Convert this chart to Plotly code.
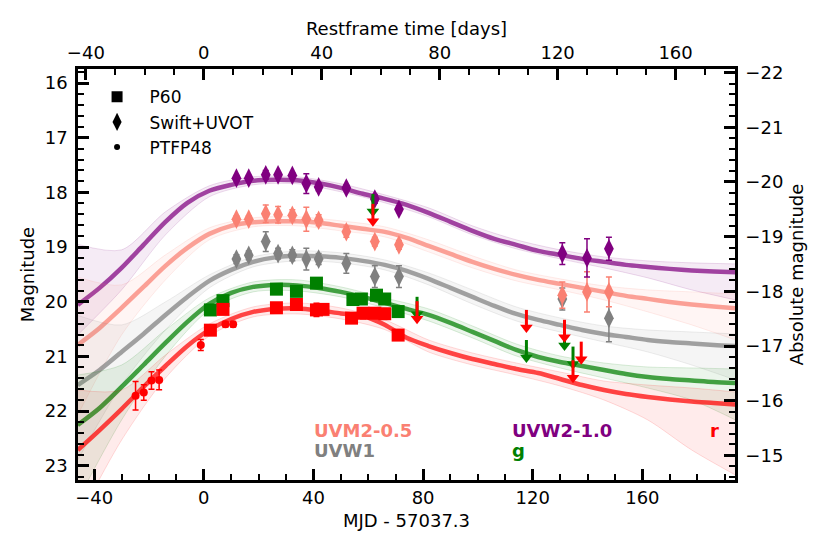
import plotly.graph_objects as go

# ---------------- data ----------------
REDSHIFT = 0.0757          # restframe = observed / (1 + z)
DIST_MOD = 37.81           # absolute = apparent - DIST_MOD

# model light curves (MJD - 57037.3 grid), central track
MODEL_T = [-46, -38, -30, -22, -14, -6, 2, 10, 18, 26, 34, 42, 50, 58, 66, 74,
           82, 90, 98, 106, 114, 122, 130, 138, 146, 154, 162, 170, 178, 186, 194]
UVW2_MODEL = [20.058, 19.747, 19.381, 18.960, 18.539, 18.191, 17.971, 17.862, 17.788, 17.770,
              17.779, 17.834, 17.917, 18.026, 18.118, 18.228, 18.374, 18.539, 18.704, 18.850,
              18.960, 19.070, 19.143, 19.216, 19.271, 19.326, 19.363, 19.399, 19.427, 19.445, 19.463]
UVM2_MODEL = [20.790, 20.479, 20.113, 19.729, 19.344, 19.015, 18.759, 18.612, 18.548, 18.530,
              18.530, 18.557, 18.612, 18.667, 18.722, 18.832, 18.978, 19.125, 19.271, 19.399,
              19.509, 19.601, 19.674, 19.747, 19.820, 19.893, 19.948, 20.003, 20.049, 20.086, 20.122]
UVW1_MODEL = [21.523, 21.248, 20.919, 20.589, 20.241, 19.912, 19.619, 19.418, 19.271, 19.189,
              19.161, 19.170, 19.198, 19.253, 19.326, 19.436, 19.582, 19.747, 19.912, 20.077,
              20.223, 20.333, 20.424, 20.516, 20.589, 20.644, 20.699, 20.736, 20.763, 20.790, 20.809]
G_MODEL = [22.255, 21.944, 21.559, 21.157, 20.754, 20.369, 20.040, 19.839, 19.729, 19.692,
           19.701, 19.747, 19.820, 19.912, 20.022, 20.131, 20.241, 20.388, 20.552, 20.717,
           20.882, 21.010, 21.102, 21.175, 21.248, 21.321, 21.376, 21.413, 21.440, 21.468, 21.486]
R_MODEL = [22.712, 22.346, 21.962, 21.559, 21.175, 20.809, 20.516, 20.315, 20.186, 20.131,
           20.122, 20.159, 20.214, 20.260, 20.420, 20.660, 20.810, 20.937, 21.047, 21.138,
           21.230, 21.303, 21.413, 21.523, 21.614, 21.687, 21.742, 21.788, 21.825, 21.852, 21.880]

# spread of the model samples (bright edge / faint edge)
ENV_T = [-46, -30, -14, 2, 18, 34, 50, 66, 82, 98, 114, 130, 146, 162, 178, 194]
UVW2_BRIGHT = [18.950, 19.051, 18.356, 17.880, 17.715, 17.715, 17.843, 18.045, 18.283, 18.612,
               18.868, 19.051, 19.180, 19.253, 19.289, 19.308]
UVW2_FAINT = [20.607, 19.784, 18.777, 18.081, 17.862, 17.843, 17.990, 18.191, 18.447, 18.777,
              19.033, 19.216, 19.381, 19.564, 19.784, 19.967]
UVM2_BRIGHT = [19.550, 19.692, 19.143, 18.649, 18.466, 18.447, 18.521, 18.630, 18.868, 19.161,
               19.418, 19.582, 19.710, 19.784, 19.820, 19.857]
UVM2_FAINT = [22.072, 20.607, 19.601, 18.868, 18.630, 18.612, 18.704, 18.814, 19.088, 19.381,
              19.619, 19.784, 19.967, 20.186, 20.424, 20.699]
UVW1_BRIGHT = [20.250, 20.424, 20.003, 19.509, 19.180, 19.070, 19.106, 19.235, 19.473, 19.784,
               20.095, 20.296, 20.443, 20.516, 20.553, 20.589]
UVW1_FAINT = [22.896, 21.523, 20.516, 19.747, 19.363, 19.253, 19.289, 19.418, 19.692, 20.040,
              20.351, 20.553, 20.736, 20.919, 21.157, 21.431]
G_BRIGHT = [21.340, 21.157, 20.516, 19.930, 19.638, 19.601, 19.729, 19.930, 20.131, 20.443,
            20.772, 20.992, 21.120, 21.193, 21.211, 21.230]
G_FAINT = [23.628, 22.163, 20.992, 20.150, 19.820, 19.802, 19.912, 20.113, 20.351, 20.662,
           20.992, 21.211, 21.395, 21.578, 21.797, 22.163]
R_BRIGHT = [21.614, 21.614, 20.974, 20.406, 20.095, 20.022, 20.113, 20.330, 20.699, 20.937,
            21.120, 21.285, 21.450, 21.523, 21.578, 21.651]
R_FAINT = [23.994, 22.530, 21.395, 20.626, 20.278, 20.223, 20.315, 20.510, 20.919, 21.157,
           21.340, 21.541, 21.797, 22.163, 22.712, 23.170]

# Swift+UVOT photometry (already offset)
UVW2_T = [11.9, 16.4, 22.6, 27.1, 32.3, 37.4, 41.9, 52.0, 62.4, 71.2, 130.8, 139.8, 147.8]
UVW2_M = [17.74, 17.74, 17.68, 17.68, 17.69, 17.84, 17.90, 17.92, 18.12, 18.31, 19.12, 19.20, 19.03]
UVW2_E = [0.05, 0.05, 0.08, 0.05, 0.05, 0.18, 0.07, 0.05, 0.08, 0.06, 0.20, 0.35, 0.21]
UVM2_T = [11.9, 16.4, 22.6, 27.1, 32.3, 37.4, 41.9, 52.0, 62.4, 71.2, 130.8, 139.8, 147.8]
UVM2_M = [18.49, 18.49, 18.39, 18.41, 18.42, 18.49, 18.51, 18.72, 18.90, 18.96, 19.88, 19.82, 19.82]
UVM2_E = [0.06, 0.06, 0.16, 0.15, 0.10, 0.22, 0.10, 0.10, 0.08, 0.08, 0.24, 0.37, 0.27]
UVW1_T = [11.9, 16.4, 22.6, 27.1, 32.3, 37.4, 41.9, 52.0, 62.4, 71.2, 130.8, 147.8]
UVW1_M = [19.22, 19.15, 18.90, 19.12, 19.15, 19.22, 19.22, 19.30, 19.54, 19.54, 19.95, 20.30]
UVW1_E = [0.08, 0.08, 0.18, 0.10, 0.10, 0.20, 0.10, 0.18, 0.20, 0.20, 0.20, 0.43]

# P60 photometry
G60_T = [2.4, 7.0, 26.5, 33.8, 41.1, 54.4, 57.5, 63.0, 66.0, 70.9]
G60_M = [20.15, 19.98, 19.77, 19.81, 19.66, 19.96, 19.95, 19.88, 19.95, 20.18]
G60_E = [0.04, 0.04, 0.04, 0.04, 0.04, 0.04, 0.04, 0.04, 0.04, 0.04]
R60_T = [2.4, 7.0, 26.5, 33.8, 41.1, 43.5, 53.9, 58.1, 62.4, 66.0, 70.9]
R60_M = [20.52, 20.14, 20.11, 20.05, 20.15, 20.14, 20.30, 20.21, 20.21, 20.22, 20.61]
R60_E = [0.04, 0.04, 0.04, 0.04, 0.12, 0.05, 0.04, 0.10, 0.05, 0.05, 0.04]

# PTF P48 photometry
R48_T = [-24.9, -21.9, -19.1, -16.3, -1.1, 7.9, 10.7]
R48_M = [21.72, 21.66, 21.44, 21.43, 20.79, 20.41, 20.41]
R48_E = [0.26, 0.14, 0.16, 0.18, 0.10, 0.05, 0.05]

# upper limits
G_LIM_T = [61.7, 77.8, 117.7, 131.6, 134.7]
G_LIM_M = [18.03, 19.91, 20.70, 20.48, 20.82]
R_LIM_T = [61.7, 77.8, 117.7, 131.6, 134.7, 137.7]
R_LIM_M = [18.21, 19.99, 20.15, 20.33, 21.07, 20.73]

# axis ranges / ticks
X_RANGE = [-45.9, 193.8]
Y_RANGE = [23.26, 15.744]
X_TICKS = [-40, 0, 40, 80, 120, 160]
TOP_TICKS = [-40, 0, 40, 80, 120, 160]
Y_TICKS = [16, 17, 18, 19, 20, 21, 22, 23]
ABS_TICKS = [-22, -21, -20, -19, -18, -17, -16, -15]

# ---------------- styling ----------------
FONT = "DejaVu Sans"
PURPLE = (128, 0, 128)
SALMON = (250, 128, 114)
GRAY = (128, 128, 128)
GREEN = (0, 128, 0)
RED = (255, 0, 0)


def rgba(c, a):
    return "rgba(%d,%d,%d,%.3f)" % (c[0], c[1], c[2], a)


fig = go.Figure()


def add_model(center, bright, faint, col):
    fig.add_trace(go.Scatter(x=ENV_T, y=bright, mode="lines",
                             line=dict(color=rgba(col, 0.18), width=0.8, shape="spline", smoothing=0.8),
                             showlegend=False, hoverinfo="skip"))
    fig.add_trace(go.Scatter(x=ENV_T, y=faint, mode="lines", fill="tonexty",
                             fillcolor=rgba(col, 0.08),
                             line=dict(color=rgba(col, 0.18), width=0.8, shape="spline", smoothing=0.8),
                             showlegend=False, hoverinfo="skip"))
    fig.add_trace(go.Scatter(x=MODEL_T, y=center, mode="lines",
                             line=dict(color=rgba(col, 0.72), width=4.5, shape="spline", smoothing=0.8),
                             showlegend=False, hoverinfo="skip"))


add_model(UVW2_MODEL, UVW2_BRIGHT, UVW2_FAINT, PURPLE)
add_model(UVM2_MODEL, UVM2_BRIGHT, UVM2_FAINT, SALMON)
add_model(UVW1_MODEL, UVW1_BRIGHT, UVW1_FAINT, GRAY)
add_model(G_MODEL, G_BRIGHT, G_FAINT, GREEN)
add_model(R_MODEL, R_BRIGHT, R_FAINT, RED)


def add_points(t, m, e, col, symbol, size):
    c = rgba(col, 1)
    fig.add_trace(go.Scatter(x=t, y=m, mode="markers",
                             marker=dict(symbol=symbol, size=size, color=c, line=dict(width=0)),
                             error_y=dict(type="data", array=e, color=c, thickness=1.5, width=3),
                             showlegend=False, hoverinfo="skip"))


add_points(UVW1_T, UVW1_M, UVW1_E, GRAY, "diamond-tall", 14)
add_points(UVM2_T, UVM2_M, UVM2_E, SALMON, "diamond-tall", 14)
add_points(UVW2_T, UVW2_M, UVW2_E, PURPLE, "diamond-tall", 14)
add_points(G60_T, G60_M, G60_E, GREEN, "square", 13)
add_points(R60_T, R60_M, R60_E, RED, "square", 13)
add_points(R48_T, R48_M, R48_E, RED, "circle", 8)

STEM = 0.32  # arrow stem length in mag


def add_limits(t, m, col):
    xs, ys = [], []
    for ti, mi in zip(t, m):
        xs += [ti, ti, None]
        ys += [mi, mi + STEM, None]
    c = rgba(col, 1)
    fig.add_trace(go.Scatter(x=xs, y=ys, mode="lines", line=dict(color=c, width=3),
                             showlegend=False, hoverinfo="skip"))
    fig.add_trace(go.Scatter(x=t, y=[mi + STEM for mi in m], mode="markers",
                             marker=dict(symbol="triangle-down", size=11, color=c, line=dict(width=0)),
                             showlegend=False, hoverinfo="skip"))


add_limits(G_LIM_T, G_LIM_M, GREEN)
add_limits(R_LIM_T, R_LIM_M, RED)

# legend entries
for name, sym, sz in [("P60", "square", 11), ("Swift+UVOT", "diamond-tall", 13), ("PTFP48", "circle", 6)]:
    fig.add_trace(go.Scatter(x=[None], y=[None], mode="markers", name=name,
                             marker=dict(symbol=sym, size=sz, color="black")))

# invisible traces to activate secondary axes
fig.add_trace(go.Scatter(x=[None], y=[None], xaxis="x2", yaxis="y", showlegend=False))
fig.add_trace(go.Scatter(x=[None], y=[None], xaxis="x", yaxis="y2", showlegend=False))

tickfont = dict(family=FONT, size=18, color="black")
common = dict(ticks="inside", ticklen=11, tickwidth=2.5, tickcolor="black",
              showline=True, linewidth=2.5, linecolor="black", showgrid=False,
              zeroline=False, tickfont=tickfont, automargin=False)
minor_x = dict(dtick=10, ticks="inside", ticklen=6, tickwidth=1.5, tickcolor="black")
minor_y = dict(dtick=0.2, ticks="inside", ticklen=6, tickwidth=1.5, tickcolor="black")
title_font = dict(family=FONT, size=18, color="black")

# the page body adds an 8 px offset, so the figure is 8 px smaller and the top/left margins shifted
fig.update_layout(
    width=822, height=546,
    margin=dict(l=70, r=95, t=61, b=74, autoexpand=False),
    plot_bgcolor="white", paper_bgcolor="white",
    font=dict(family=FONT, size=18, color="black"),
    xaxis=dict(range=X_RANGE, tickvals=X_TICKS, minor=minor_x, ticklabelstandoff=0, **common,
               title=dict(text="MJD - 57037.3", font=title_font, standoff=8)),
    xaxis2=dict(range=[X_RANGE[0] / (1 + REDSHIFT), X_RANGE[1] / (1 + REDSHIFT)],
                overlaying="x", side="top", tickvals=TOP_TICKS, minor=minor_x, ticklabelstandoff=0,
                **common, title=dict(text="Restframe time [days]", font=title_font, standoff=2)),
    yaxis=dict(range=Y_RANGE, tickvals=Y_TICKS, minor=minor_y, ticklabelstandoff=4, **common,
               title=dict(text="Magnitude", font=title_font, standoff=6)),
    yaxis2=dict(range=[Y_RANGE[0] - DIST_MOD, Y_RANGE[1] - DIST_MOD], overlaying="y", side="right",
                tickvals=ABS_TICKS, minor=minor_y, ticklabelstandoff=4, **common,
                title=dict(text="Absolute magnitude", font=title_font, standoff=9)),
    legend=dict(x=0.01, y=0.975, xanchor="left", yanchor="top", bgcolor="rgba(0,0,0,0)",
                font=dict(family=FONT, size=17), itemsizing="trace", traceorder="normal",
                itemwidth=55, tracegroupgap=0),
    showlegend=True,
)

labels = [("UVM2-0.5", 39.6, 22.36, SALMON), ("UVW1", 39.6, 22.72, GRAY),
          ("UVW2-1.0", 111.6, 22.36, PURPLE), ("g", 111.6, 22.72, GREEN),
          ("r", 183.8, 22.36, RED)]
for txt, x, y, col in labels:
    fig.add_annotation(x=x, y=y, xref="x", yref="y", text="<b>%s</b>" % txt, showarrow=False,
                       xanchor="left", yanchor="middle",
                       font=dict(family=FONT, size=18, color=rgba(col, 1)))

fig.write_html("out.html")
